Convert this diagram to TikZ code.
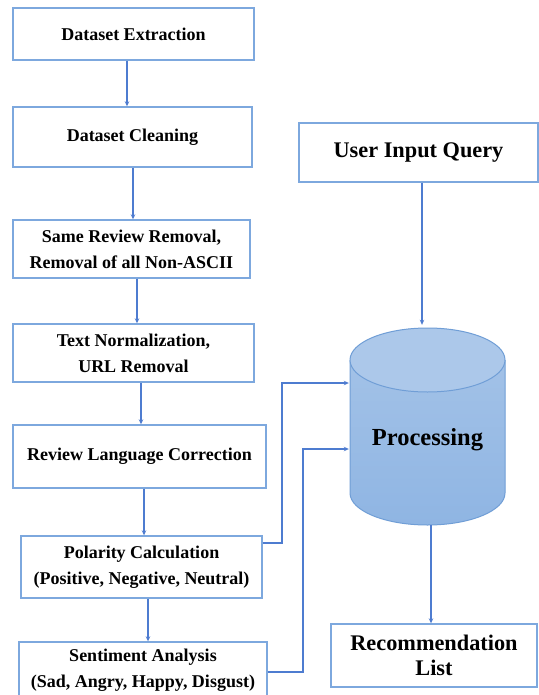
\documentclass[tikz,border=0pt]{standalone}
\usepackage{fontspec}
\setmainfont{Liberation Serif}
\usetikzlibrary{arrows.meta}
\definecolor{boxline}{RGB}{125,168,222}
\definecolor{arrline}{RGB}{78,124,208}
\definecolor{cyltop}{RGB}{172,200,234}
\definecolor{cylhi}{RGB}{166,196,232}
\definecolor{cyllo}{RGB}{143,181,227}
\definecolor{cylline}{RGB}{112,158,214}
\begin{document}
\begin{tikzpicture}[x=1bp,y=-1bp,
  box/.style={draw=boxline, line width=1.4bp, fill=white, inner sep=0pt, align=center,
    font=\fontsize{18bp}{26bp}\selectfont\bfseries},
  rbox/.style={box, font=\fontsize{22.3bp}{25bp}\selectfont\bfseries},
  arr/.style={draw=arrline, line width=1.1bp, -{Stealth[length=5bp,width=4.5bp]}},
  lnk/.style={draw=arrline, line width=1.1bp}]
\useasboundingbox (0,0) rectangle (539,695);
\clip (0,0) rectangle (539,695);
\fill[white] (0,0) rectangle (539,695);

% left column boxes
\node[box, minimum width=241bp, minimum height=52bp] (b1) at (133.5,34) {Dataset Extraction};
\node[box, minimum width=239bp, minimum height=60bp] (b2) at (132.5,137) {Dataset Cleaning};
\node[box, minimum width=237bp, minimum height=58bp] (b3) at (131.5,249) {Same Review Removal,\\Removal of all Non-ASCII};
\node[box, minimum width=241bp, minimum height=58bp] (b4) at (133.5,353) {Text Normalization,\\URL Removal};
\node[box, minimum width=253bp, minimum height=63bp] (b5) at (139.5,456.5) {Review Language Correction};
\node[box, minimum width=241bp, minimum height=62bp] (b6) at (141.5,567) {Polarity Calculation\\(Positive, Negative, Neutral)};
\node[box, minimum width=248bp, minimum height=57bp] (b7) at (143,670.5) {Sentiment Analysis\\(Sad, Angry, Happy, Disgust)};

% right column
\node[rbox, minimum width=239bp, minimum height=59bp] (uq) at (418.5,152.5) {User Input Query};
\node[rbox, minimum width=206bp, minimum height=63bp] (rec) at (434,655.5) {Recommendation\\List};

% cylinder
\node[minimum width=155bp, minimum height=197bp, inner sep=0pt] (proc) at (427.5,426.5) {};
\shade[top color=cylhi, bottom color=cyllo]
  (350,360) -- (350,493) arc[start angle=180, end angle=360, x radius=77.5bp, y radius=32bp]
  -- (505,360) arc[start angle=0, end angle=180, x radius=77.5bp, y radius=32bp] -- cycle;
\draw[cylline, line width=1bp]
  (350,360) -- (350,493) arc[start angle=180, end angle=360, x radius=77.5bp, y radius=32bp] -- (505,360);
\filldraw[fill=cyltop, draw=cylline, line width=1bp] (427.5,360) ellipse [x radius=77.5bp, y radius=32bp];
\node[font=\fontsize{24.5bp}{26bp}\selectfont\bfseries] (ptxt) at (427.5,440) {Processing};

% arrow x positions
\coordinate (x1) at (127,0);
\coordinate (x2) at (133,0);
\coordinate (x3) at (137,0);
\coordinate (x4) at (141,0);
\coordinate (x5) at (144,0);
\coordinate (x6) at (148,0);
\coordinate (xq) at (422,0);
\coordinate (xr) at (431,0);

\draw[arr] (b1.south -| x1) -- (b2.north -| x1);
\draw[arr] (b2.south -| x2) -- (b3.north -| x2);
\draw[arr] (b3.south -| x3) -- (b4.north -| x3);
\draw[arr] (b4.south -| x4) -- (b5.north -| x4);
\draw[arr] (b5.south -| x5) -- (b6.north -| x5);
\draw[arr] (b6.south -| x6) -- (b7.north -| x6);

\draw[arr] (uq.south -| xq) -- ([yshift=3bp]proc.north -| xq);
\draw[arr] (proc.south -| xr) -- (rec.north -| xr);

\coordinate (p1) at (282,543);
\coordinate (p2) at (282,383);
\coordinate (q1) at (303,672);
\coordinate (q2) at (303,449);
\draw[arr] (b6.east |- p1) -- (p1) -- (p2) -- ([xshift=-1bp]proc.west |- p2);
\draw[arr] (b7.east |- q1) -- (q1) -- (q2) -- ([xshift=-1bp]proc.west |- q2);
\end{tikzpicture}
\end{document}
